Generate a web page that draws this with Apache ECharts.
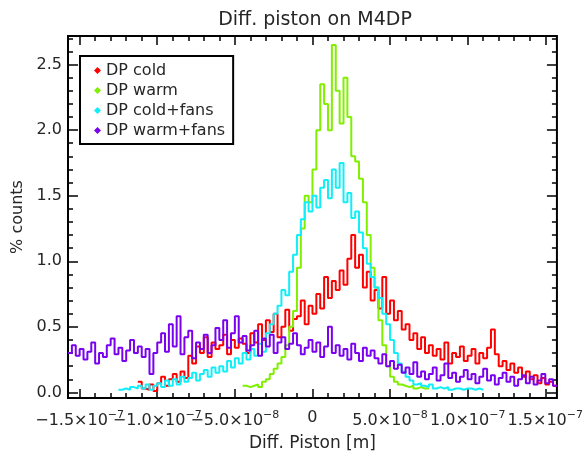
<!DOCTYPE html>
<html><head><meta charset="utf-8">
<script src="https://cdn.jsdelivr.net/npm/echarts@6/dist/echarts.min.js"></script>
<style>html,body{margin:0;padding:0;background:#fff}#c{width:586px;height:457px}</style>
</head><body><div id="c"></div>
<script>
const seriesNames = ['DP cold', 'DP warm', 'DP cold+fans', 'DP warm+fans'];
const seriesColors = ['#ff0000', '#80f000', '#10eef8', '#7a00f0'];
const binWidth = 2.5e-9;

const coldStart = -1.125e-7;
const cold = [0.08,
  0.03,0.02,0.06,0.01, 0.07,0.12,0.05,0.10, 0.14,0.08,0.16,0.11, 0.28,0.22,0.35,0.30,
  0.42,0.27,0.38,0.33, 0.36,0.44,0.29,0.40, 0.34,0.41,0.37,0.30, 0.45,0.38,0.52,0.40,
  0.55,0.46,0.60,0.42, 0.50,0.63,0.47,0.56, 0.58,0.70,0.52,0.66, 0.60,0.75,0.64,0.88,
  0.72,0.85,0.78,0.93, 0.82,1.02,1.20,0.95, 1.05,0.80,0.92,0.70, 0.78,0.64,0.88,0.60,
  0.70,0.55,0.62,0.48, 0.52,0.40,0.45,0.33, 0.42,0.30,0.36,0.28, 0.33,0.25,0.38,0.22,
  0.30,0.27,0.35,0.24, 0.28,0.33,0.22,0.30, 0.26,0.34,0.48,0.29, 0.20,0.24,0.17,0.22,
  0.15,0.19,0.12,0.16, 0.10,0.13,0.07,0.11,
  0.06,0.08,0.05];

const warmStart = -4.5e-8;
const warm = [0.05,0.04,
  0.05,0.06,0.04,0.08, 0.10,0.14,0.18,0.22, 0.27,0.36,0.50,0.62, 0.95,1.25,1.50,1.45,
  1.70,2.00,2.35,2.20, 2.00,2.65,2.30,2.05, 2.40,2.10,1.80,1.76, 1.63,1.45,1.20,0.95,
  0.80,0.55,0.36,0.20, 0.12,0.08,0.06,0.05, 0.04,0.05,0.03,0.04,
  0.03,0.03];

const coldFansStart = -1.25e-7;
const coldFans = [0.02,0.03,
  0.02,0.04,0.03,0.05, 0.03,0.06,0.02,0.05, 0.07,0.04,0.09,0.05, 0.10,0.06,0.12,0.08,
  0.11,0.15,0.09,0.14, 0.17,0.12,0.19,0.15, 0.20,0.16,0.24,0.19, 0.26,0.22,0.30,0.25,
  0.33,0.28,0.37,0.31, 0.45,0.52,0.60,0.66, 0.78,0.74,0.92,1.05, 1.20,1.32,1.45,1.38,
  1.50,1.41,1.56,1.62, 1.48,1.70,1.56,1.75, 1.45,1.52,1.33,1.38, 1.22,1.10,0.98,0.88,
  0.80,0.72,0.60,0.52, 0.40,0.30,0.22,0.16, 0.12,0.09,0.06,0.07, 0.05,0.04,0.06,0.03,
  0.04,0.03,0.04,0.02, 0.03,0.03,0.02,0.03, 0.03,0.02,0.03,0.02];

const warmFansStart = -1.575e-7;
const warmFans = [0.30,0.36,0.28,
  0.33,0.25,0.31,0.38, 0.22,0.30,0.27,0.36, 0.41,0.29,0.34,0.24, 0.32,0.40,0.30,0.35,
  0.27,0.33,0.14,0.30, 0.38,0.45,0.31,0.52, 0.35,0.58,0.29,0.42, 0.47,0.26,0.38,0.33,
  0.44,0.30,0.36,0.49, 0.40,0.55,0.34,0.45, 0.58,0.38,0.43,0.32, 0.36,0.47,0.28,0.41,
  0.35,0.44,0.30,0.38, 0.42,0.33,0.37,0.45, 0.36,0.29,0.34,0.40, 0.31,0.38,0.27,0.35,
  0.50,0.30,0.36,0.28, 0.33,0.25,0.37,0.30, 0.24,0.34,0.28,0.32, 0.26,0.22,0.29,0.20,
  0.24,0.18,0.21,0.15, 0.19,0.14,0.23,0.12, 0.16,0.10,0.14,0.19, 0.09,0.13,0.22,0.11,
  0.15,0.08,0.12,0.17, 0.10,0.14,0.07,0.12, 0.18,0.09,0.13,0.06, 0.11,0.15,0.08,0.12,
  0.05,0.10,0.13,0.07, 0.12,0.06,0.09,0.14,
  0.07,0.10,0.05];

const xTickValues = [-1.5e-7, -1.0e-7, -5.0e-8, 0, 5.0e-8, 1.0e-7, 1.5e-7];
const xTickLabels = ['\u22121.5\u00d710{s|\u22127}', '\u22121.0\u00d710{s|\u22127}', '\u22125.0\u00d710{s|\u22128}', '0',
                     '5.0\u00d710{s|\u22128}', '1.0\u00d710{s|\u22127}', '1.5\u00d710{s|\u22127}'];
const yTickValues = [0, 0.5, 1.0, 1.5, 2.0, 2.5];
const yTickLabels = ['0.0', '0.5', '1.0', '1.5', '2.0', '2.5'];

const titleText = 'Diff. piston on M4DP';
const xName = 'Diff. Piston [m]';
const yName = '% counts';

const X_MIN = -1.575e-7, X_MAX = 1.575e-7, Y_MIN = -0.043, Y_MAX = 2.718;
const FONT = 'DejaVu Sans';
const TXT = '#262626';

const xMinor = [];
for (let k = -15; k <= 15; k++) xMinor.push(k * 1e-8);
const yMinor = [];
for (let k = 0; k <= 27; k++) yMinor.push(Math.round(k * 10) / 100);
// split labels over two bottom axes so neighbouring labels may touch like in the original
const xLabelsA = xTickValues.filter((v, i) => i % 2 === 0);
const xLabelsB = xTickValues.filter((v, i) => i % 2 === 1);

function toSteps(start, vals) {
  const pts = vals.map((v, i) => [start + i * binWidth, v]);
  pts.push([start + vals.length * binWidth, vals[vals.length - 1]]);
  return pts;
}
const allData = [toSteps(coldStart, cold), toSteps(warmStart, warm),
                 toSteps(coldFansStart, coldFans), toSteps(warmFansStart, warmFans)];

function xFmt(v) { const i = xTickValues.findIndex(t => Math.abs(t - v) < 1e-12); return i >= 0 ? xTickLabels[i] : ''; }

function xAx(pos, vals, len, labelVals, withName) {
  return {
    type: 'value', position: pos, min: X_MIN, max: X_MAX,
    axisLine: { show: false, onZero: false }, splitLine: { show: false },
    axisTick: { show: true, inside: true, length: len, customValues: vals, lineStyle: { color: '#000', width: 1.5 } },
    axisLabel: labelVals ? {
      show: true, customValues: labelVals, showMinLabel: true, showMaxLabel: true, hideOverlap: false,
      margin: 12, fontFamily: FONT, fontSize: 16, color: TXT, formatter: xFmt,
      rich: { s: { fontSize: 11, fontFamily: FONT, color: TXT, padding: [0, 0, 10, 0] } }
    } : { show: false },
    name: withName ? xName : '', nameLocation: 'middle', nameGap: 37,
    nameTextStyle: { fontFamily: FONT, fontSize: 17, color: TXT }
  };
}
function yAx(pos, vals, len, withLabels) {
  return {
    type: 'value', position: pos, min: Y_MIN, max: Y_MAX,
    axisLine: { show: false, onZero: false }, splitLine: { show: false },
    axisTick: { show: true, inside: true, length: len, customValues: vals, lineStyle: { color: '#000', width: 1.5 } },
    axisLabel: withLabels ? {
      show: true, customValues: yTickValues, showMinLabel: true, showMaxLabel: true,
      margin: 6, fontFamily: FONT, fontSize: 16, color: TXT,
      formatter: v => { let i = yTickValues.findIndex(t => Math.abs(t - v) < 1e-9); return i >= 0 ? yTickLabels[i] : ''; }
    } : { show: false },
    name: withLabels ? yName : '', nameLocation: 'middle', nameGap: 42, nameRotate: 90,
    nameTextStyle: { fontFamily: FONT, fontSize: 16, color: TXT }
  };
}

const chart = echarts.init(document.getElementById('c'), null, { renderer: 'canvas' });
chart.setOption({
  animation: false,
  backgroundColor: '#fff',
  title: { text: titleText, left: 315, top: 11, padding: 0, textAlign: 'center',
           textStyle: { fontFamily: FONT, fontSize: 19, fontWeight: 'normal', color: TXT } },
  grid: { left: 68, right: 23, top: 36, bottom: 53, show: true, borderColor: '#000', borderWidth: 2, backgroundColor: 'transparent' },
  legend: {
    orient: 'vertical', left: 80, top: 56, data: seriesNames, icon: 'diamond',
    itemWidth: 7, itemHeight: 7, itemGap: 1,
    borderColor: '#000', borderWidth: 2, backgroundColor: '#fff', padding: [5, 8, 4, 14],
    textStyle: { fontFamily: FONT, fontSize: 16, lineHeight: 19, color: TXT }
  },
  xAxis: [xAx('bottom', xTickValues, 9, xLabelsA, true), xAx('bottom', xMinor, 5, xLabelsB, false),
          xAx('top', xTickValues, 9, null, false), xAx('top', xMinor, 5, null, false)],
  yAxis: [yAx('left', yTickValues, 10, true), yAx('left', yMinor, 5, false),
          yAx('right', yTickValues, 10, false), yAx('right', yMinor, 5, false)],
  series: seriesNames.map((n, i) => ({
    name: n, type: 'line', step: 'end', symbol: 'none', xAxisIndex: 0, yAxisIndex: 0,
    color: seriesColors[i], lineStyle: { width: 2, color: seriesColors[i] },
    data: allData[i]
  }))
});
</script></body></html>
